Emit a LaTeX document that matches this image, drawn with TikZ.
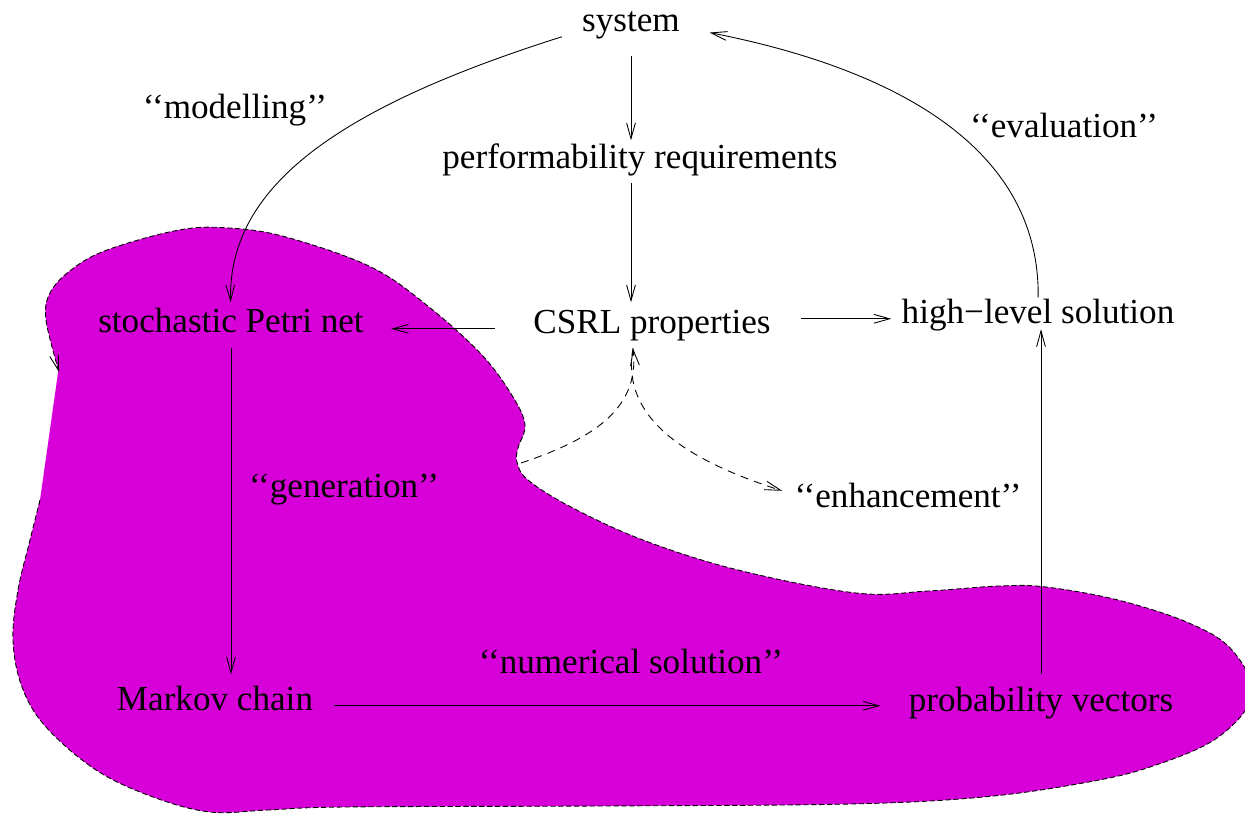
\documentclass[tikz,border=0pt]{standalone}
\usepackage{fontspec}
\setmainfont{Liberation Serif}
\definecolor{toolmagenta}{RGB}{216, 0, 216}
\usetikzlibrary{
  arrows.meta,
  calc,
  positioning,
}
\tikzset{
  >={Straight Barb[length=9pt,width=5pt]},
}

\begin{document}
\begin{tikzpicture}[x=0.02cm, y=-0.02cm,
    stage/.style={anchor=base, inner sep=0pt, text height=0.7em, text depth=0.22em,
                  font=\fontsize{20}{24}\selectfont},
    flowarrow/.style={->, line width=0.5pt},
    hintarrow/.style={->, line width=0.5pt, dash pattern=on 4.5pt off 3.5pt}]
  \useasboundingbox (0,0) rectangle (1245,815);
  % region covered by the tool
  \begin{scope}
    \clip (0,0) rectangle (1245,815);
    \draw [fill=toolmagenta, line width=0.5pt, dash pattern=on 3pt off 1.5pt, ->]
      plot [smooth, tension=0.6] coordinates {
        (40,500) (30,540) (18,590) (13,640) (22,687) (46,727) (96,770)
        (153,797) (210,812) (268,810) (344,807) (600,806) (850,804)
        (983,797) (1083,783) (1150,767) (1217,738) (1252,695) (1232,650)
        (1189,623) (1118,600) (1046,587) (999,586) (928,591) (856,593)
        (738,570) (643,540) (571,507) (528,480) (517,462) (518,448)
        (525,425) (513,397) (482,355) (429,307) (371,267) (286,237)
        (229,228) (179,230) (107,250) (71,270) (50,293) (46,320) (59,372)};
  \end{scope}

  \node [stage] (system) at (631,31) {system};
  \node [stage] (perf) at (640,168) {performability requirements};
  \node [stage] (csrl) at (652,333) {CSRL properties};
  \node [stage] (spn) at (231,332) {stochastic Petri net};
  \node [stage] (hl) at (1038,323) {high−level solution};
  \node [stage] (markov) at (215,710) {Markov chain};
  \node [stage] (prob) at (1041,711) {probability vectors};

  \node [stage] (modelling) at (235,118) {‘‘modelling’’};
  \node [stage] (evaluation) at (1064,137) {‘‘evaluation’’};
  \node [stage] (generation) at (344,497) {‘‘generation’’};
  \node [stage] (enhancement) at (908,507) {‘‘enhancement’’};
  \node [stage] (numerical) at (631,673) {‘‘numerical solution’’};

  \draw [flowarrow, shorten <=0.42cm, shorten >=0.3cm] (system.south) -- (system.south |- perf.north);
  \draw [flowarrow, shorten <=0.22cm, shorten >=0.36cm] (system.south |- perf.south) -- (system.south |- csrl.north);
  \draw [flowarrow, shorten <=0.76cm, shorten >=0.54cm] (csrl.west) -- (csrl.west -| spn.east);
  \draw [flowarrow, shorten <=0.6cm, shorten >=0.2cm] (csrl.east |- hl.west) -- (hl.west);
  \draw [flowarrow, shorten <=0.24cm, shorten >=0.46cm] (spn.south) -- (spn.south |- markov.north);
  \draw [flowarrow, shorten <=0.42cm, shorten >=0.56cm] (markov.east) -- (markov.east -| prob.west);
  \draw [flowarrow, shorten <=0.48cm, shorten >=0.04cm] (prob.north) -- (prob.north |- hl.south);

  \draw [flowarrow, shorten >=0.34cm] ($(system.west)+(-20,10)$)
        .. controls (330,110) and (228,190) .. (spn.north);
  \draw [flowarrow, shorten <=0.26cm, shorten >=0.6cm] (hl.north)
        .. controls (1040,150) and (900,70) .. (system.east);

  \coordinate (dent) at (521,463);
  \coordinate (fork) at ($(csrl.south)+(-19,11)$);
  \draw [hintarrow] (dent) .. controls (590,440) and (640,410) .. (fork);
  \draw [hintarrow] (fork) .. controls (622,410) and (670,455) .. ($(enhancement.west)+(-12,-12)$);
\end{tikzpicture}
\end{document}
